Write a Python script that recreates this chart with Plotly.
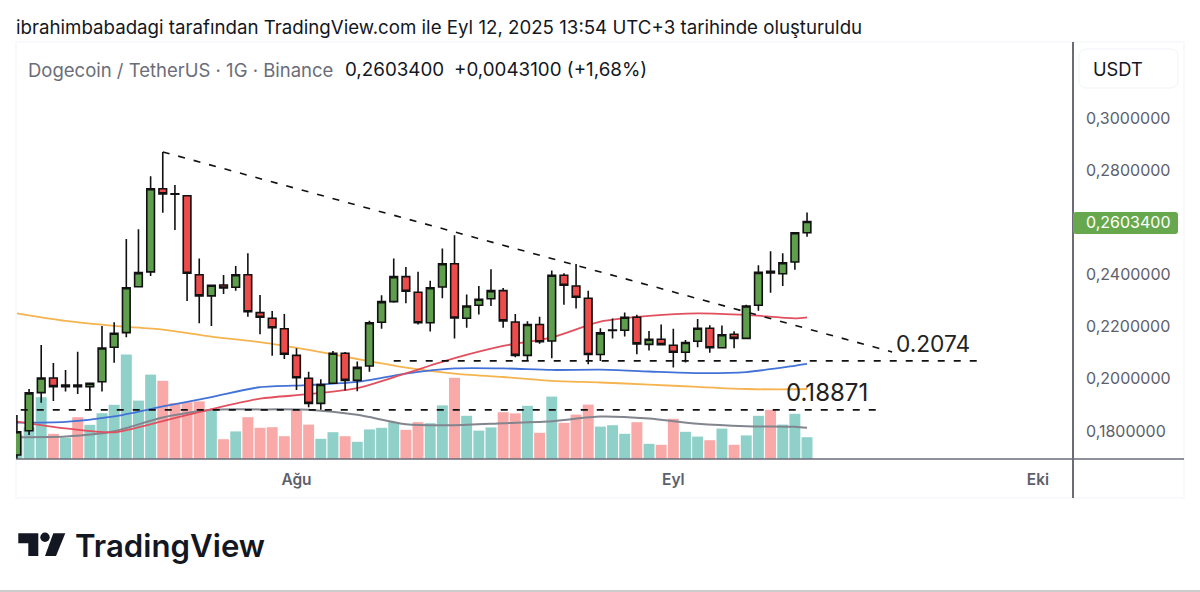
import pandas as pd
import plotly.graph_objects as go

# DOGE/USDT daily candles, first candle is 9 Jul 2025
abertura = [0.1708, 0.1801, 0.1947, 0.2003, 0.1970, 0.1976, 0.1970, 0.1989, 0.2121, 0.2177, 0.2353,
            0.2410, 0.2729, 0.2709, 0.2702, 0.2399, 0.2318, 0.2360, 0.2351, 0.2399, 0.2254, 0.2232,
            0.2192, 0.2090, 0.2002, 0.1906, 0.1983, 0.2098, 0.1994, 0.2049, 0.2217, 0.2296, 0.2392,
            0.2332, 0.2215, 0.2352, 0.2441, 0.2232, 0.2282, 0.2307, 0.2338, 0.2218, 0.2090, 0.2208,
            0.2145, 0.2397, 0.2356, 0.2309, 0.2093, 0.2185, 0.2186, 0.2236, 0.2132, 0.2152, 0.2129,
            0.2102, 0.2144, 0.2194, 0.2119, 0.2171, 0.2155, 0.2282, 0.2412, 0.2403, 0.2448, 0.2560]
fechamento = [0.1797, 0.1946, 0.2003, 0.1970, 0.1976, 0.1970, 0.1983, 0.2118, 0.2175, 0.2349, 0.2407,
              0.2729, 0.2709, 0.2708, 0.2405, 0.2318, 0.2359, 0.2348, 0.2399, 0.2257, 0.2236, 0.2196,
              0.2094, 0.2004, 0.1906, 0.1978, 0.2098, 0.1994, 0.2044, 0.2215, 0.2296, 0.2392, 0.2336,
              0.2215, 0.2349, 0.2441, 0.2233, 0.2279, 0.2305, 0.2338, 0.2222, 0.2090, 0.2208, 0.2142,
              0.2397, 0.2359, 0.2313, 0.2093, 0.2176, 0.2187, 0.2236, 0.2134, 0.2152, 0.2131, 0.2102,
              0.2139, 0.2194, 0.2119, 0.2169, 0.2155, 0.2279, 0.2408, 0.2406, 0.2445, 0.2560, 0.26034]
maxima = [0.1861, 0.1961, 0.2130, 0.2061, 0.2034, 0.2104, 0.1985, 0.2203, 0.2217, 0.2536, 0.2573,
          0.2777, 0.2870, 0.2743, 0.2705, 0.2461, 0.2361, 0.2398, 0.2433, 0.2481, 0.2321, 0.2260,
          0.2249, 0.2117, 0.2027, 0.1998, 0.2107, 0.2103, 0.2066, 0.2223, 0.2320, 0.2461, 0.2429,
          0.2411, 0.2376, 0.2500, 0.2550, 0.2323, 0.2356, 0.2420, 0.2348, 0.2249, 0.2221, 0.2238,
          0.2415, 0.2405, 0.2440, 0.2338, 0.2194, 0.2231, 0.2254, 0.2246, 0.2183, 0.2208, 0.2192,
          0.2149, 0.2229, 0.2205, 0.2204, 0.2182, 0.2284, 0.2435, 0.2489, 0.2481, 0.2562, 0.2638]
minimas = [0.1693, 0.1785, 0.1908, 0.1915, 0.1951, 0.1942, 0.1881, 0.1951, 0.2062, 0.2159, 0.2353,
           0.2394, 0.2637, 0.2571, 0.2298, 0.2213, 0.2203, 0.2325, 0.2338, 0.2238, 0.2171, 0.2088,
           0.2076, 0.1957, 0.1891, 0.1881, 0.1980, 0.1955, 0.1952, 0.2027, 0.2192, 0.2292, 0.2290,
           0.2208, 0.2181, 0.2309, 0.2155, 0.2196, 0.2247, 0.2279, 0.2196, 0.2083, 0.2070, 0.2134,
           0.2079, 0.2284, 0.2270, 0.2056, 0.2068, 0.2155, 0.2162, 0.2094, 0.2109, 0.2129, 0.2043,
           0.2063, 0.2121, 0.2100, 0.2116, 0.2117, 0.2153, 0.2261, 0.2330, 0.2356, 0.2418, 0.2545]
volume = [1.20, 1.59, 3.09, 1.26, 1.06, 2.09, 1.71, 2.29, 2.71, 5.22, 2.92, 4.22, 3.91, 2.79, 2.84, 2.88,
          2.42, 0.99, 1.38, 2.09, 1.56, 1.59, 1.14, 2.45, 1.72, 1.01, 1.34, 1.14, 0.86, 1.48, 1.56, 1.84,
          1.46, 1.84, 1.79, 2.68, 4.06, 2.16, 1.42, 1.58, 2.34, 2.28, 2.66, 1.31, 3.12, 1.81, 2.22, 2.72,
          1.62, 1.69, 1.26, 1.84, 0.76, 0.71, 2.01, 1.36, 1.12, 0.94, 1.52, 0.71, 1.18, 2.16, 2.46, 1.72,
          2.26, 1.09]

# moving averages, read every 4th candle
media_indices = [0, 4, 8, 12, 16, 20, 24, 28, 32, 36, 40, 44, 48, 52, 56, 60, 64, 65]
media_laranja = [0.2251, 0.2222, 0.2203, 0.2189, 0.2162, 0.2141, 0.2111, 0.2076, 0.2043, 0.2020, 0.2007,
                 0.1992, 0.1986, 0.1978, 0.1969, 0.1961, 0.1960, 0.1961]
media_azul = [0.1832, 0.1835, 0.1856, 0.1894, 0.1930, 0.1968, 0.1976, 0.1988, 0.2020, 0.2040, 0.2040,
              0.2034, 0.2035, 0.2028, 0.2022, 0.2026, 0.2050, 0.2057]
media_vermelha = [0.1836, 0.1810, 0.1795, 0.1838, 0.1884, 0.1924, 0.1941, 0.1964, 0.2021, 0.2079, 0.2126,
                  0.2159, 0.2219, 0.2241, 0.2251, 0.2245, 0.2232, 0.2236]
media_volume = [1.09, 1.12, 1.39, 2.08, 2.46, 2.48, 2.46, 2.21, 1.74, 1.69, 1.79, 1.89, 2.12, 2.02, 1.76,
                1.64, 1.61, 1.56]

# drawings: trend line and the two support levels
linha_tendencia_datas = ["2025-07-21", "2025-09-19"]
linha_tendencia_precos = [0.2870, 0.2103]
nivel_1_datas = ["2025-08-09", "2025-09-26"]
nivel_1_precos = [0.2069, 0.2069]
nivel_2_datas = ["2025-07-08", "2025-09-18"]
nivel_2_precos = [0.1881, 0.1881]

# 0,26 is hidden behind the last price label in the original
preco_ticks = [0.18, 0.20, 0.22, 0.24, 0.28, 0.30]
mes_ticks = ["2025-08-01", "2025-09-01", "2025-10-01"]
mes_rotulos = ["Ağu", "Eyl", "Eki"]

datas = pd.date_range("2025-07-09", periods=len(abertura))
media_datas = [datas[i] for i in media_indices]
cores_volume = ["#8fd0c9" if c >= a else "#f9a9a8" for a, c in zip(abertura, fechamento)]

faixa_preco = [0.16926, 0.32914]
faixa_volume = [0, 20.85]
faixa_datas = ["2025-07-08 22:13", "2025-10-03 21:07"]


# pixel position in the picture to paper coordinates
def px(x):
    return x / 1200


def py(y):
    return 1 - y / 592


def caixa_arredondada(x0, y0, x1, y1, r):
    return (f"M {px(x0 + r)} {py(y0)} L {px(x1 - r)} {py(y0)} Q {px(x1)} {py(y0)} {px(x1)} {py(y0 + r)} "
            f"L {px(x1)} {py(y1 - r)} Q {px(x1)} {py(y1)} {px(x1 - r)} {py(y1)} "
            f"L {px(x0 + r)} {py(y1)} Q {px(x0)} {py(y1)} {px(x0)} {py(y1 - r)} "
            f"L {px(x0)} {py(y0 + r)} Q {px(x0)} {py(y0)} {px(x0 + r)} {py(y0)} Z")


def poligono(pontos):
    return "M " + " L ".join(f"{px(x)} {py(y)}" for x, y in pontos) + " Z"


fig = go.Figure()

fig.add_trace(go.Bar(x=datas, y=volume, marker=dict(color=cores_volume, line_width=0), yaxis="y"))
fig.add_trace(go.Scatter(x=media_datas, y=media_volume, mode="lines", yaxis="y",
                         line=dict(color="#82858e", width=2, shape="spline", smoothing=0.7)))

for media, cor in [(media_laranja, "#f5b44f"), (media_azul, "#4272d7"), (media_vermelha, "#e2505f")]:
    fig.add_trace(go.Scatter(x=media_datas, y=media, mode="lines", yaxis="y2",
                             line=dict(color=cor, width=1.8, shape="spline", smoothing=0.7)))

fig.add_trace(go.Candlestick(x=datas, open=abertura, high=maxima, low=minimas, close=fechamento, yaxis="y3",
                             whiskerwidth=0,
                             increasing=dict(fillcolor="#5f9e4c", line=dict(color="#111111", width=1.6)),
                             decreasing=dict(fillcolor="#ee4b4b", line=dict(color="#111111", width=1.6))))

for linha_x, linha_y in [(linha_tendencia_datas, linha_tendencia_precos),
                         (nivel_1_datas, nivel_1_precos),
                         (nivel_2_datas, nivel_2_precos)]:
    fig.add_trace(go.Scatter(x=linha_x, y=linha_y, mode="lines", yaxis="y3",
                             line=dict(color="#111111", width=1.6, dash="7px,9px")))

textos = [
    ("ibrahimbabadagi tarafından TradingView.com ile Eyl 12, 2025 13:54 UTC+3 tarihinde oluşturuldu", 14, 28, 18.7, "#131722", 400),
    ("Dogecoin / TetherUS · 1G · Binance", 26, 70, 18.5, "#6a6d78", 400),
    ("0,2603400", 343, 70, 18.8, "#131722", 400),
    ("+0,0043100 (+1,68%)", 452, 70, 18.8, "#131722", 400),
    ("USDT", 1091, 69, 18.3, "#131722", 400),
    ("0.2074", 894, 344, 22.7, "#222222", 400),
    ("0.18871", 784, 392, 24, "#222222", 400),
    ("0,2603400", 1084, 222, 16, "#ffffff", 400),
    ("TradingView", 73, 546, 31.2, "#131722", 600),
]
anotacoes = [dict(text=t, x=px(x), y=py(y), xref="paper", yref="paper", xanchor="left", yanchor="middle",
                  showarrow=False, font=dict(family="Inter", size=s, color=c, weight=w))
             for t, x, y, s, c, w in textos]

formas = [
    dict(type="rect", x0=px(16), x1=px(1184), y0=py(498), y1=py(42), line=dict(color="#f0f3fa", width=1), layer="below"),
    dict(type="line", x0=px(1073), x1=px(1073), y0=py(498), y1=py(42), line=dict(color="#6a6d78", width=2)),
    dict(type="line", x0=px(16), x1=px(1184), y0=py(459), y1=py(459), line=dict(color="#6a6d78", width=1.5)),
    dict(type="path", path=caixa_arredondada(1079, 49, 1178, 88, 8), line=dict(color="#f0f3fa", width=1)),
    dict(type="path", path=caixa_arredondada(1073, 212, 1178, 234, 3), fillcolor="#67a84f", line_width=0),
    dict(type="path", path=poligono([(18.3, 533.3), (38.3, 533.3), (38.3, 556), (28.3, 556), (28.3, 543.3), (18.3, 543.3)]),
         fillcolor="#131722", line_width=0),
    dict(type="path", path=poligono([(53.3, 533.3), (65.3, 533.3), (56, 556), (45, 556)]), fillcolor="#131722", line_width=0),
    dict(type="circle", x0=px(40.3), x1=px(49.7), y0=py(542), y1=py(532.6), fillcolor="#131722", line_width=0),
    dict(type="line", x0=0, x1=1, y0=py(591), y1=py(591), line=dict(color="#cccccc", width=2)),
]
for forma in formas:
    forma["xref"] = "paper"
    forma["yref"] = "paper"

dominio_x = [px(16), px(1073)]
dominio_y = [py(459), py(42)]

fig.update_layout(
    width=1200, height=592,
    margin=dict(l=0, r=0, t=0, b=0),
    paper_bgcolor="white", plot_bgcolor="white",
    showlegend=False,
    bargap=0.1, boxgap=0.37, boxgroupgap=0,
    separators=",.",
    annotations=anotacoes,
    shapes=formas,
    xaxis=dict(domain=dominio_x, range=faixa_datas, type="date", rangeslider=dict(visible=False),
               showgrid=False, zeroline=False, showline=False, ticks="",
               tickvals=mes_ticks, ticktext=mes_rotulos, ticklabelstandoff=9,
               tickfont=dict(family="Inter", size=15.5, color="#5d606b", weight=600)),
    yaxis=dict(domain=dominio_y, range=faixa_volume, visible=False, showgrid=False, zeroline=False),
    yaxis2=dict(domain=dominio_y, range=faixa_preco, overlaying="y", visible=False, showgrid=False, zeroline=False),
    yaxis3=dict(domain=dominio_y, range=faixa_preco, overlaying="y", anchor="x", side="right",
                showgrid=False, zeroline=False, showline=False, ticks="",
                tickvals=preco_ticks, tickformat=".7f", ticklabelstandoff=12,
                tickfont=dict(family="Inter", size=16, color="#5d606b")),
)

fig.write_html("out.html", config=dict(displayModeBar=False), post_script="document.body.style.margin='0';")
